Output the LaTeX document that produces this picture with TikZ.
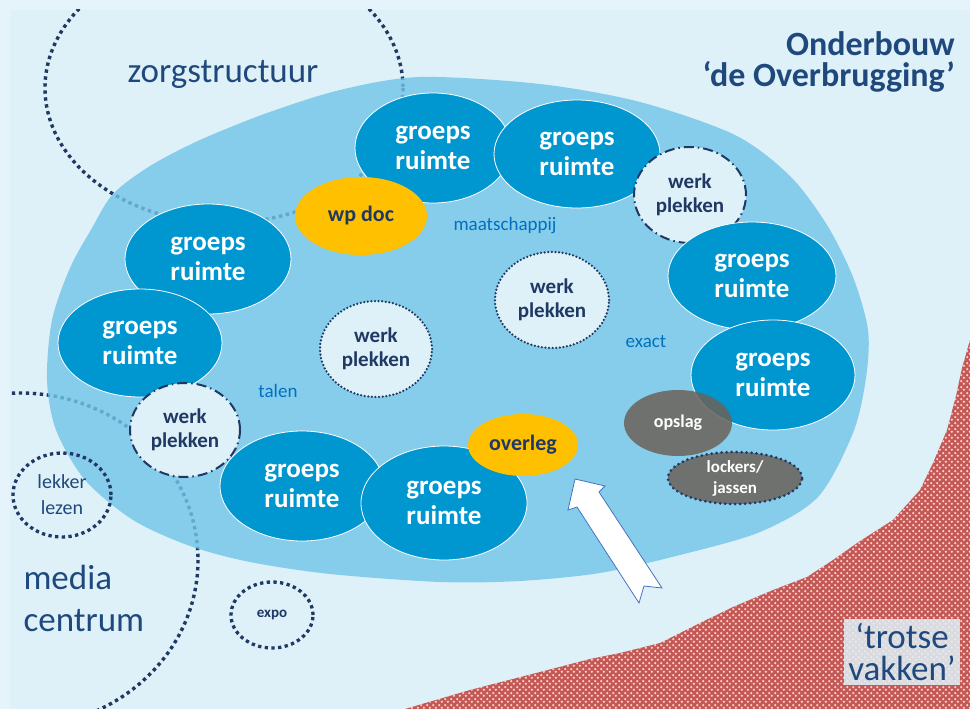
\documentclass[tikz,border=0pt]{standalone}
\usepackage{fontspec}
\setmainfont{Carlito}
\usetikzlibrary{shapes.geometric,patterns}

\definecolor{bgrim}{RGB}{228,244,250}
\definecolor{bgpanel}{RGB}{222,241,248}
\definecolor{zoneblue}{RGB}{113,196,232}
\definecolor{groepblue}{RGB}{0,150,207}
\definecolor{wpgold}{RGB}{255,192,0}
\definecolor{navy}{RGB}{31,56,100}
\definecolor{textblue}{RGB}{31,73,125}
\definecolor{labelblue}{RGB}{0,112,192}
\definecolor{storegrey}{RGB}{108,98,90}
\definecolor{redball}{RGB}{238,212,212}
\definecolor{redbase}{RGB}{196,88,85}
\definecolor{arrowedge}{RGB}{68,114,196}

\pgfdeclarepatternformonly{redballs}{\pgfqpoint{0pt}{0pt}}{\pgfqpoint{6pt}{6pt}}{\pgfqpoint{6pt}{6pt}}{%
  \pgfpathcircle{\pgfqpoint{1.5pt}{4.5pt}}{1.4pt}%
  \pgfpathcircle{\pgfqpoint{4.5pt}{1.5pt}}{1.4pt}%
  \pgfusepath{fill}}

\tikzset{
  groep/.style={ellipse, draw=white, line width=0.8pt, fill=groepblue, text=white,
    font=\bfseries\fontsize{27}{30}\selectfont, align=center, inner sep=0pt,
    minimum width=166pt, minimum height=110pt},
  werkdash/.style={ellipse, draw=navy, line width=2pt, dash pattern=on 10pt off 4pt on 1.5pt off 4pt,
    fill=bgpanel, text=navy, font=\bfseries\fontsize{21}{24}\selectfont, align=center,
    inner sep=0pt, minimum width=112pt, minimum height=96pt},
  werkdot/.style={werkdash, dash pattern=on 0pt off 3.6pt, line cap=round, line width=2.5pt},
  gold/.style={ellipse, fill=wpgold, text=navy, font=\bfseries\fontsize{22}{26}\selectfont, inner sep=0pt},
  store/.style={ellipse, fill=storegrey, fill opacity=0.85, text opacity=1, text=white,
    font=\bfseries\fontsize{18}{21}\selectfont, align=center, inner sep=-8pt},
  outdot/.style={ellipse, draw=navy, line width=3.3pt, dash pattern=on 3.3pt off 3.4pt,
    text=textblue, align=center, inner sep=0pt},
  bigdot/.style={draw=navy, line width=3.4pt, dash pattern=on 3.4pt off 3.6pt},
  zonelabel/.style={text=labelblue, font=\fontsize{19}{22}\selectfont},
  bigtext/.style={text=textblue, font=\fontsize{35}{42}\selectfont}
}

\begin{document}
\begin{tikzpicture}[x=1pt, y=-1pt]
  \useasboundingbox (0,0) rectangle (970,709);
  % background
  \fill[bgrim] (0,0) rectangle (970,709);
  \fill[bgpanel] (10,10) rectangle (970,709);
  % trotse vakken area
  \fill[redbase, postaction={pattern=redballs, pattern color=redball}]
    (970,340) -- (962,368) -- (956,396) -- (947,430) -- (933,463) -- (920,490)
    -- (893,520) -- (860,541) -- (833,560) -- (807,577) -- (773,590) -- (733,607)
    -- (700,623) -- (660,643) -- (620,653) -- (590,659) -- (540,672) -- (470,690)
    -- (405,709) -- (970,709) -- cycle;
  % zorgstructuur and mediacentrum rings
  \begin{scope}
    \clip (10,10) rectangle (970,709);
    \draw[bigdot] (224,88) ellipse [x radius=179, y radius=135];
    \draw[bigdot] (20,560) ellipse [x radius=178, y radius=167];
  \end{scope}
  % onderbouw
  \fill[zoneblue, fill opacity=0.8] plot[smooth cycle] coordinates {
    (420,77) (540,84) (640,102) (735,135) (790,176) (827,225) (853,277) (868,330)
    (866,378) (853,433) (818,497) (760,532) (680,555) (600,573) (520,581) (440,582)
    (330,574) (250,562) (190,546) (133,520) (85,480) (56,430) (47,380) (52,320)
    (70,268) (92,228) (113,194) (150,166) (200,140) (267,113) (340,90)};
  \node[zonelabel] (maatschappij) at (505,226) {maatschappij};
  \node[zonelabel] (talen) at (278,391) {talen};
  \node[zonelabel] (exact) at (646,342) {exact};
  % rooms
  \node[groep, minimum width=156pt] (groep1) at (433,148) {groeps\\ruimte};
  \node[groep, minimum height=108pt] (groep2) at (577,154) {groeps\\ruimte};
  \node[werkdash] (werk1) at (690,195) {werk\\plekken};
  \node[groep, minimum width=168pt, minimum height=108pt] (groep3) at (752,276) {groeps\\ruimte};
  \node[groep, minimum width=164pt] (groep4) at (773,375) {groeps\\ruimte};
  \node[store, minimum width=108pt, minimum height=66pt] (opslag) at (678,423) {opslag};
  \node[store, draw=navy, draw opacity=1, line width=3pt, dash pattern=on 0pt off 5pt, line cap=round,
    font=\bfseries\fontsize{17}{21}\selectfont, minimum width=134pt, minimum height=52pt]
    (lockers) at (735,478) {lockers/\\jassen};
  \node[groep] (groep5) at (208,259) {groeps\\ruimte};
  \node[groep, minimum width=164pt, minimum height=108pt] (groep6) at (140,343) {groeps\\ruimte};
  \node[werkdash, minimum width=110pt, minimum height=94pt] (werk2) at (185,430) {werk\\plekken};
  \node[groep, minimum width=164pt] (groep7) at (302,486) {groeps\\ruimte};
  \node[groep, minimum height=114pt] (groep8) at (444,503) {groeps\\ruimte};
  \node[gold, minimum width=110pt, minimum height=62pt] (overleg) at (523,445) {overleg};
  \node[gold, minimum width=132pt, minimum height=78pt] (wpdoc) at (361,216) {wp doc};
  \node[werkdot] (werk3) at (376,349) {werk\\plekken};
  \node[werkdot, minimum width=114pt] (werk4) at (552,300) {werk\\plekken};
  % entrance
  \filldraw[fill=white, draw=arrowedge, line width=0.8pt, line join=miter]
    (575,479) -- (605,486) -- (599,492) -- (662,588) -- (644,586) -- (639,603)
    -- (577,507) -- (568,510) -- cycle;
  % outside
  \node[outdot, font=\fontsize{20}{26}\selectfont, minimum width=98pt, minimum height=84pt]
    (lekker) at (62,495) {lekker\\lezen};
  \node[outdot, text=navy, font=\bfseries\fontsize{15}{18}\selectfont, minimum width=82pt, minimum height=66pt]
    (expo) at (272,615) {expo};
  \node[bigtext, anchor=base] (zorg) at (223,82) {zorgstructuur};
  \node[bigtext, anchor=west, align=left] (media) at (20,598) {media\\centrum};
  \node[bigtext, font=\fontsize{35}{32}\selectfont, align=center, fill=bgpanel, fill opacity=0.85,
    text opacity=1, inner sep=4pt] (trotse) at (902,652) {‘trotse\\vakken’};
  \node[bigtext, font=\bfseries\fontsize{34}{31}\selectfont, align=right, anchor=north east,
    inner sep=0pt] (titel) at (955,31) {Onderbouw\\‘de Overbrugging’};
\end{tikzpicture}
\end{document}
